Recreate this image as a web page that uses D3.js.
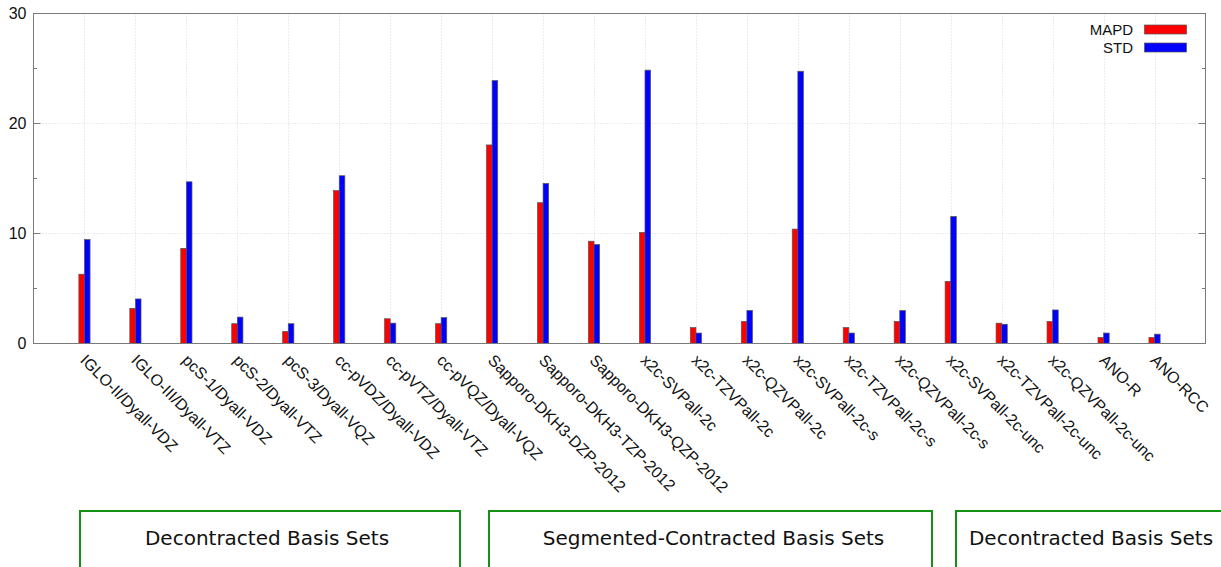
<!DOCTYPE html>
<html>
<head>
<meta charset="utf-8">
<script src="https://cdn.jsdelivr.net/npm/d3@7/dist/d3.min.js"></script>
<style>
  html, body { margin: 0; padding: 0; background: #fff; }
  svg { display: block; }
</style>
</head>
<body>
<div id="chart"></div>
<script>
// basis sets along the x axis
const categories = [
  "IGLO-II/Dyall-VDZ", "IGLO-III/Dyall-VTZ", "pcS-1/Dyall-VDZ", "pcS-2/Dyall-VTZ",
  "pcS-3/Dyall-VQZ", "cc-pVDZ/Dyall-VDZ", "cc-pVTZ/Dyall-VTZ", "cc-pVQZ/Dyall-VQZ",
  "Sapporo-DKH3-DZP-2012", "Sapporo-DKH3-TZP-2012", "Sapporo-DKH3-QZP-2012",
  "x2c-SVPall-2c", "x2c-TZVPall-2c", "x2c-QZVPall-2c",
  "x2c-SVPall-2c-s", "x2c-TZVPall-2c-s", "x2c-QZVPall-2c-s",
  "x2c-SVPall-2c-unc", "x2c-TZVPall-2c-unc", "x2c-QZVPall-2c-unc",
  "ANO-R", "ANO-RCC"
]
const mapd = [6.3, 3.2, 8.65, 1.8, 1.1, 13.9, 2.25, 1.8, 18.05, 12.8, 9.3,
              10.1, 1.45, 2.0, 10.4, 1.45, 2.0, 5.65, 1.85, 2.0, 0.55, 0.55]
const std = [9.45, 4.05, 14.7, 2.4, 1.8, 15.25, 1.85, 2.35, 23.9, 14.55, 9.0,
             24.85, 0.95, 3.0, 24.75, 0.95, 3.0, 11.55, 1.75, 3.05, 0.95, 0.85]
const seriesNames = ["MAPD", "STD"]
const yTicks = [0, 10, 20, 30]
const yMinor = [5, 15, 25]
const groupLabels = ["Decontracted Basis Sets", "Segmented-Contracted Basis Sets", "Decontracted Basis Sets"]

const W = 1221, H = 567
const plot = {left: 33.5, right: 1205.5, top: 13.5, bottom: 343.5}
const colors = ["#ff0000", "#0000ff"]
const font = "'Liberation Sans', Arial, sans-serif"

const svg = d3.select("#chart")
  .append("svg")
  .attr("width", W)
  .attr("height", H)

const x = d3.scaleLinear().domain([-1, categories.length]).range([plot.left, plot.right])
const y = d3.scaleLinear().domain([0, 30]).range([plot.bottom, plot.top])
const bw = x(0.11) - x(0)

// grid (dotted)
const grid = svg.append("g")
  .attr("stroke", "#d8d8d8")
  .attr("stroke-width", 1)
  .attr("stroke-dasharray", "1,2")
grid.selectAll("line.v")
  .data(categories)
  .enter().append("line")
  .attr("x1", (d, i) => Math.round(x(i)) + 0.5)
  .attr("x2", (d, i) => Math.round(x(i)) + 0.5)
  .attr("y1", plot.top)
  .attr("y2", plot.bottom)
grid.selectAll("line.h")
  .data(yTicks.filter(t => t > 0 && t < 30))
  .enter().append("line")
  .attr("x1", plot.left)
  .attr("x2", plot.right)
  .attr("y1", d => y(d))
  .attr("y2", d => y(d))

// bars
const series = [mapd, std]
series.forEach((vals, s) => {
  svg.append("g")
    .selectAll("rect")
    .data(vals)
    .enter().append("rect")
    .attr("x", (d, i) => s === 0 ? x(i) - bw : x(i))
    .attr("y", d => y(d))
    .attr("width", bw)
    .attr("height", d => y(0) - y(d))
    .attr("fill", colors[s])
    .attr("stroke", "#555")
    .attr("stroke-width", 0.7)
})

// frame
svg.append("rect")
  .attr("x", plot.left)
  .attr("y", plot.top)
  .attr("width", plot.right - plot.left)
  .attr("height", plot.bottom - plot.top)
  .attr("fill", "none")
  .attr("stroke", "#7a7a7a")
  .attr("stroke-width", 1)

// y ticks, left and mirrored right, pointing inward
const ticks = svg.append("g").attr("stroke", "#7a7a7a")
yTicks.concat(yMinor).forEach(t => {
  const len = yTicks.includes(t) ? 7 : 3.5
  ticks.append("line").attr("x1", plot.left).attr("x2", plot.left + len).attr("y1", y(t)).attr("y2", y(t))
  ticks.append("line").attr("x1", plot.right).attr("x2", plot.right - len).attr("y1", y(t)).attr("y2", y(t))
})

svg.append("g")
  .selectAll("text")
  .data(yTicks)
  .enter().append("text")
  .attr("x", 26.5)
  .attr("y", d => y(d))
  .attr("dy", "0.35em")
  .attr("text-anchor", "end")
  .style("font-family", font)
  .style("font-size", "16px")
  .style("fill", "#111")
  .text(d => d)

// rotated category labels
svg.append("g")
  .selectAll("text")
  .data(categories)
  .enter().append("text")
  .attr("transform", (d, i) => "translate(" + (x(i) + 3) + "," + 353 + ") rotate(45)")
  .attr("dy", "0.72em")
  .attr("text-anchor", "start")
  .style("font-family", font)
  .style("font-size", "16px")
  .style("fill", "#111")
  .text(d => d)

// legend
const legend = svg.append("g")
seriesNames.forEach((name, s) => {
  const cy = 29.5 + s * 18
  legend.append("text")
    .attr("x", 1133)
    .attr("y", cy)
    .attr("dy", "0.35em")
    .attr("text-anchor", "end")
    .style("font-family", font)
    .style("font-size", "15px")
    .style("fill", "#111")
    .text(name)
  legend.append("rect")
    .attr("x", 1144.5)
    .attr("y", cy - 4.5)
    .attr("width", 42)
    .attr("height", 9)
    .attr("fill", colors[s])
    .attr("stroke", "#555")
    .attr("stroke-width", 0.7)
})

// group boxes under the chart
const boxes = [{x: 80, w: 380, dx: -3}, {x: 489, w: 443, dx: 3}, {x: 956, w: 270, dx: 0}]
const gb = svg.append("g")
boxes.forEach((b, i) => {
  gb.append("rect")
    .attr("x", b.x)
    .attr("y", 511)
    .attr("width", b.w)
    .attr("height", 100)
    .attr("fill", "none")
    .attr("stroke", "#159015")
    .attr("stroke-width", 2)
  gb.append("text")
    .attr("x", b.x + b.w / 2 + b.dx)
    .attr("y", 538)
    .attr("dy", "0.35em")
    .attr("text-anchor", "middle")
    .style("font-family", "'DejaVu Sans', sans-serif")
    .style("font-size", "20px")
    .style("fill", "#111")
    .text(groupLabels[i])
})
</script>
</body>
</html>
